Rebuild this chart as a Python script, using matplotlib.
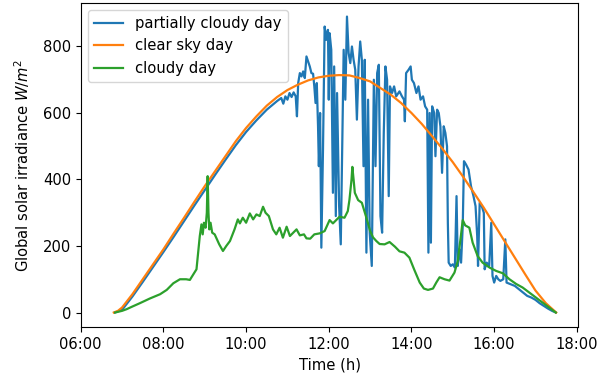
import matplotlib
matplotlib.use("Agg")
import matplotlib.pyplot as plt

plt.rcParams["font.size"] = 10.6

# ---- data (time in decimal hours, irradiance in W/m^2) ----
clear_t = [6.80, 6.90, 7.00, 7.25, 7.50, 7.75, 8.00, 8.25, 8.50, 8.75, 9.00, 9.25, 9.50,
           9.75, 10.00, 10.25, 10.50, 10.75, 11.00, 11.25, 11.50, 11.75, 12.00, 12.25,
           12.50, 12.75, 13.00, 13.25, 13.50, 13.75, 14.00, 14.25, 14.50, 14.75, 15.00,
           15.25, 15.50, 15.75, 16.00, 16.25, 16.50, 16.75, 17.00, 17.25, 17.50]
clear_v = [0, 5, 15, 55, 100, 145, 190, 238, 285, 333, 380, 425, 470,
           515, 555, 590, 622, 648, 669, 685, 698, 707, 712, 714,
           713, 705, 695, 675, 655, 630, 600, 567, 530, 492, 452,
           408, 362, 315, 265, 215, 165, 115, 66, 28, 0]

partly_t = [6.83, 7.00, 7.25, 7.50, 7.75, 8.00, 8.25, 8.50, 8.75, 9.00, 9.25, 9.50, 9.75,
            10.00, 10.25, 10.50, 10.75, 10.85, 10.90, 10.95, 11.00, 11.05, 11.10, 11.15,
            11.20, 11.23, 11.26, 11.30, 11.34, 11.38, 11.42, 11.46, 11.50, 11.54, 11.58,
            11.62, 11.65, 11.68, 11.71, 11.74, 11.76, 11.79, 11.82, 11.86, 11.90, 11.94,
            11.98, 12.00, 12.02, 12.06, 12.10, 12.13, 12.17, 12.20, 12.25, 12.29, 12.33,
            12.36, 12.40, 12.44, 12.48, 12.52, 12.56, 12.60, 12.64, 12.68, 12.72, 12.76,
            12.80, 12.84, 12.87, 12.91, 12.95, 12.99, 13.04, 13.09, 13.13, 13.17, 13.21,
            13.25, 13.29, 13.33, 13.37, 13.41, 13.45, 13.48, 13.53, 13.58, 13.63, 13.71,
            13.77, 13.82, 13.84, 13.87, 13.93, 13.98, 14.01, 14.06, 14.12, 14.17, 14.22,
            14.28, 14.33, 14.38, 14.41, 14.44, 14.47, 14.50, 14.55, 14.58, 14.62, 14.66,
            14.70, 14.74, 14.78, 14.82, 14.86, 14.88, 14.90, 14.95, 15.00, 15.05, 15.09,
            15.12, 15.16, 15.20, 15.24, 15.27, 15.32, 15.38, 15.44, 15.50, 15.55, 15.59,
            15.61, 15.65, 15.70, 15.75, 15.77, 15.82, 15.88, 15.93, 15.96, 16.00, 16.05,
            16.10, 16.15, 16.22, 16.27, 16.30, 16.40, 16.50, 16.60, 16.70, 16.80, 16.90,
            17.00, 17.10, 17.20, 17.30, 17.40, 17.49]
partly_v = [0, 8, 48, 92, 137, 182, 228, 275, 322, 368, 414, 459, 503,
            543, 578, 610, 636, 645, 628, 650, 640, 660, 648, 662,
            650, 590, 690, 720, 710, 725, 705, 770, 755, 740, 720,
            718, 680, 630, 690, 560, 440, 600, 195, 490, 860, 820,
            850, 640, 840, 790, 360, 740, 290, 660, 320, 205, 540,
            790, 640, 890, 780, 750, 800, 760, 730, 580, 740, 815,
            760, 440, 760, 180, 640, 240, 140, 700, 440, 720, 745,
            290, 240, 540, 740, 700, 350, 680, 660, 680, 650, 665,
            650, 640, 575, 720, 730, 740, 700, 690, 660, 680, 640,
            650, 620, 610, 180, 600, 210, 620, 600, 470, 610, 600,
            560, 420, 560, 540, 500, 270, 150, 140, 145, 135, 350,
            140, 190, 150, 260, 455, 445, 430, 380, 350, 320, 230,
            140, 330, 320, 300, 130, 150, 140, 270, 110, 90, 110,
            100, 95, 100, 220, 90, 85, 80, 70, 60, 50, 45,
            38, 28, 20, 12, 5, 0]

cloudy_t = [6.83, 7.00, 7.11, 7.25, 7.43, 7.67, 7.92, 8.08, 8.24, 8.40, 8.55, 8.64, 8.80,
            8.88, 8.92, 8.95, 8.98, 9.02, 9.05, 9.07, 9.09, 9.11, 9.14, 9.18, 9.24, 9.35,
            9.44, 9.52, 9.61, 9.72, 9.80, 9.85, 9.92, 10.00, 10.09, 10.17, 10.25, 10.33,
            10.41, 10.47, 10.55, 10.65, 10.73, 10.81, 10.89, 10.98, 11.06, 11.14, 11.22,
            11.30, 11.40, 11.46, 11.55, 11.65, 11.78, 11.90, 12.02, 12.10, 12.26, 12.38,
            12.46, 12.50, 12.55, 12.57, 12.60, 12.63, 12.71, 12.80, 12.91, 13.00, 13.07,
            13.15, 13.23, 13.35, 13.47, 13.60, 13.71, 13.83, 13.95, 14.07, 14.20, 14.30,
            14.40, 14.52, 14.60, 14.68, 14.80, 14.92, 15.04, 15.12, 15.20, 15.24, 15.30,
            15.40, 15.48, 15.60, 15.72, 15.89, 16.05, 16.21, 16.37, 16.53, 16.69, 16.85,
            17.01, 17.17, 17.33, 17.49]
cloudy_v = [0, 5, 10, 18, 28, 42, 55, 68, 88, 100, 100, 98, 130,
            230, 265, 235, 270, 255, 300, 410, 300, 250, 270, 240, 235, 205,
            185, 200, 215, 250, 280, 268, 285, 270, 298, 280, 295, 290,
            318, 300, 290, 250, 235, 255, 225, 258, 230, 240, 250,
            232, 235, 223, 222, 235, 238, 245, 278, 268, 288, 285,
            305, 339, 400, 438, 400, 360, 338, 330, 285, 245, 226,
            215, 206, 205, 212, 198, 184, 180, 165, 128, 90, 72,
            68, 72, 90, 106, 100, 96, 120, 155, 235, 278, 262,
            255, 210, 170, 150, 135, 125, 118, 100, 86, 75, 60,
            45, 30, 15, 0]

tick_hours = [6, 8, 10, 12, 14, 16, 18]
tick_labels = ["06:00", "08:00", "10:00", "12:00", "14:00", "16:00", "18:00"]

fig = plt.figure(figsize=(6.13, 3.79), dpi=100)
ax = fig.add_axes([0.1317, 0.1364, 0.9437 - 0.1317, 0.9929 - 0.1364])

ax.plot(partly_t, partly_v, color="#1f77b4", lw=1.6, label="partially cloudy day")
ax.plot(clear_t, clear_v, color="#ff7f0e", lw=1.6, label="clear sky day")
ax.plot(cloudy_t, cloudy_v, color="#2ca02c", lw=1.6, label="cloudy day")

ax.set_xlim(6.0, 18.04)
ax.set_ylim(-44.5, 931.7)
ax.set_xticks(tick_hours)
ax.set_xticklabels(tick_labels)
ax.set_yticks([0, 200, 400, 600, 800])
ax.set_xlabel("Time (h)")
ax.set_ylabel("Global solar irradiance $W/m^2$", labelpad=8)
ax.legend(loc="upper left")

fig.savefig("out.png", dpi=100)
